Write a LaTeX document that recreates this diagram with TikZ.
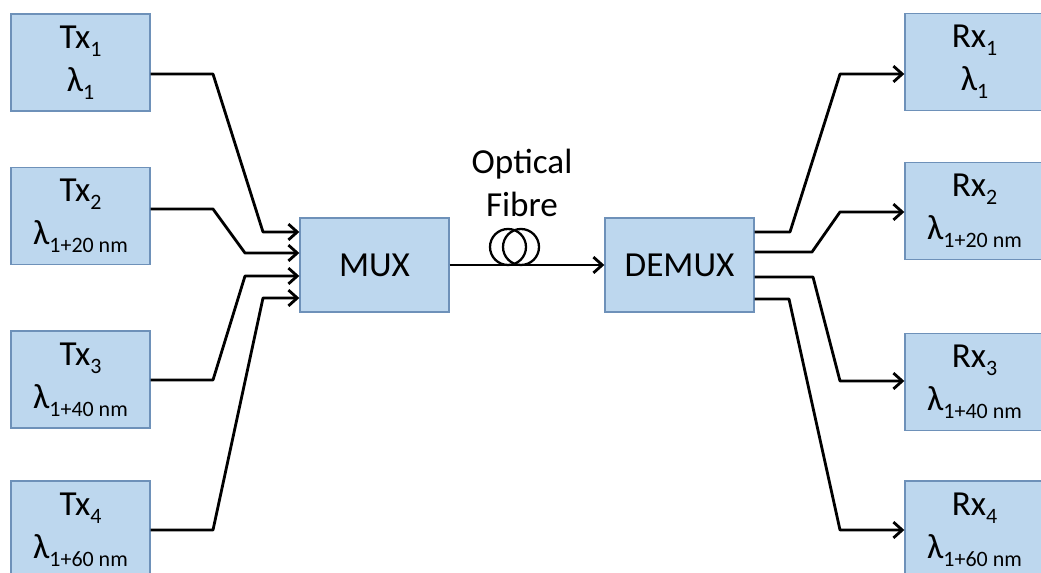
\documentclass[tikz,border=0pt]{standalone}
\usepackage{fontspec}
\setmainfont{Carlito}
\usetikzlibrary{arrows,arrows.meta}

\definecolor{boxfill}{RGB}{189,215,238}
\definecolor{boxline}{RGB}{110,145,185}
\newcommand{\lo}[1]{\raisebox{-0.22em}{\fontsize{12.5}{12.5}\selectfont #1}}

\begin{document}
\begin{tikzpicture}[x=0.02cm, y=-0.02cm,
  txt/.style={font=\fontsize{20}{24.5}\selectfont, align=center},
  unit/.style={txt, draw=boxline, fill=boxfill, line width=0.8pt,
    minimum width=2.78cm, minimum height=1.94cm, inner sep=0pt},
  block/.style={unit, minimum width=2.98cm, minimum height=1.88cm},
  wire/.style={-{Straight Barb[length=5pt,width=9pt]}, line width=1.6pt, line join=round},
  coil/.style={line width=1.3pt}]
\useasboundingbox (0,0) rectangle (1041,573);

\node (Tx1) at (80.5,62.5) [unit] {Tx\lo{1}\\λ\lo{1}};
\node (Tx2) at (80.5,216) [unit] {Tx\lo{2}\\λ\lo{1+20 nm}};
\node (Tx3) at (80.5,379.5) [unit] {Tx\lo{3}\\λ\lo{1+40 nm}};
\node (Tx4) at (80.5,529.5) [unit] {Tx\lo{4}\\λ\lo{1+60 nm}};

\node (mux) at (374.5,265) [block] {MUX};
\node (demux) at (679.5,265) [block] {DEMUX};

\node (Rx1) at (974.5,62) [unit] {Rx\lo{1}\\λ\lo{1}};
\node (Rx2) at (974.5,211) [unit] {Rx\lo{2}\\λ\lo{1+20 nm}};
\node (Rx3) at (974.5,382) [unit] {Rx\lo{3}\\λ\lo{1+40 nm}};
\node (Rx4) at (974.5,529.5) [unit] {Rx\lo{4}\\λ\lo{1+60 nm}};

\node (fibre) at (522,183) [txt] {Optical\\Fibre};

\draw [wire] (Tx1.east |- 0,74) -- (213,74) -- (263,232) -- (mux.west |- 0,232);
\draw [wire] (Tx2.east |- 0,209) -- (213,209) -- (245,253) -- (mux.west |- 0,253);
\draw [wire] (Tx3.east |- 0,380) -- (213,380) -- (245,276) -- (mux.west |- 0,276);
\draw [wire] (Tx4.east |- 0,530) -- (213,530) -- (263,298) -- (mux.west |- 0,298);

\draw [wire] (mux) -- (demux);
\draw [coil] (508,247) circle [radius=18];
\draw [coil] (521,247) circle [radius=18];

\draw [wire] (demux.east |- 0,232) -- (790,232) -- (840,74) -- (Rx1.west |- 0,74);
\draw [wire] (demux.east |- 0,252) -- (812,252) -- (840,212) -- (Rx2.west |- 0,212);
\draw [wire] (demux.east |- 0,277) -- (813,277) -- (840,381) -- (Rx3.west |- 0,381);
\draw [wire] (demux.east |- 0,299) -- (789,299) -- (840,530) -- (Rx4.west |- 0,530);
\end{tikzpicture}
\end{document}
